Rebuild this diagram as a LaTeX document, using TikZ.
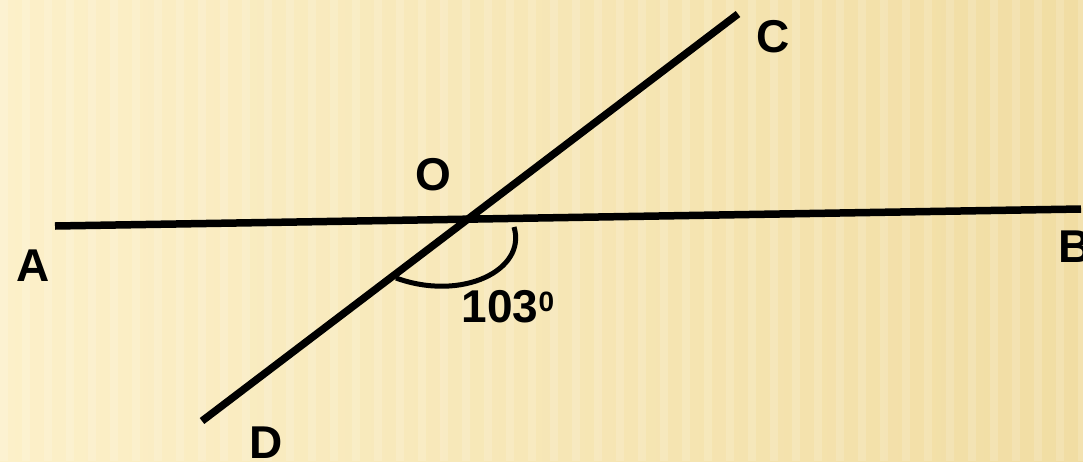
\documentclass[tikz,border=0pt]{standalone}
\usepackage{fontspec}
\setmainfont{Liberation Sans}
\usetikzlibrary{positioning, calc}
\definecolor{paperlight}{HTML}{FCF0C9}
\definecolor{paperdark}{HTML}{F1DDA3}

\begin{document}
\begin{tikzpicture}[
        x=1pt, y=-1pt,
        line/.style = {line width=7.5pt},
        arcline/.style = {line width=5pt},
        lbl/.style = {font=\fontsize{46}{48}\selectfont\bfseries, inner sep=0pt},
        stripe/.style = {white, opacity=0.15}
    ]

    % --- NỀN ---
    \useasboundingbox (0,0) rectangle (1083,461);
    \clip (0,0) rectangle (1083,461);
    \shade[left color=paperlight, right color=paperdark] (0,0) rectangle (1083,461);
    \foreach \x in {0,22,...,1083}
        \fill[stripe] (\x,0) rectangle ++(8,461);

    % --- CÁC ĐIỂM ---
    \coordinate (A) at (55,226);
    \coordinate (B) at (1081,209);
    \coordinate (C) at (738,14);
    \coordinate (D) at (202,421);
    \coordinate (O) at (467,219);

    % --- CÁC ĐƯỜNG THẲNG ---
    \draw[line] (A) -- (B);
    \draw[line] (D) -- (C);

    % --- GÓC ---
    \coordinate (arcstart) at (514,227);
    \coordinate (arcend) at (396,278);
    \draw[arcline] (arcstart) .. controls (527,270) and (462,302) .. (arcend);

    % --- NHÃN ---
    \node[lbl] (labelA) at (33,266) {A};
    \node[lbl] (labelB) at (1075,247) {B};
    \node[lbl] (labelC) at (773,37) {C};
    \node[lbl] (labelO) at (433,175) {O};
    \node[lbl] (labelD) at (266,443) {D};
    \node[lbl] (angle) at (508,307) {103\raisebox{0.25em}{\fontsize{28}{30}\selectfont 0}};

\end{tikzpicture}
\end{document}
